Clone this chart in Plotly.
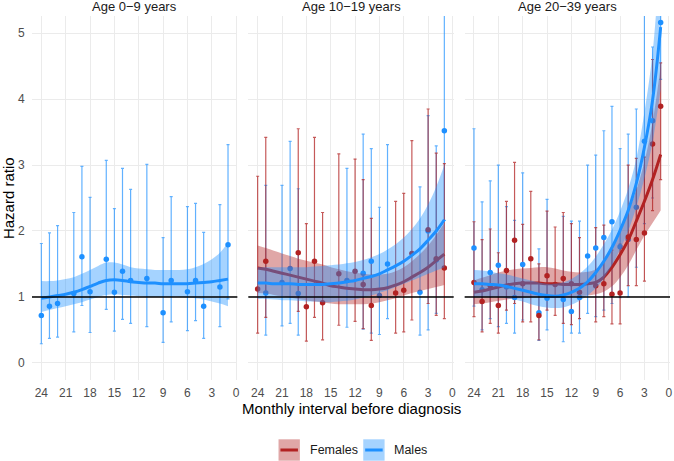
import plotly.graph_objects as go

# ---------------- data ----------------
panel_titles = ["Age 0−9 years", "Age 10−19 years", "Age 20−39 years"]
x_ticks = [24, 21, 18, 15, 12, 9, 6, 3, 0]
smooth_x = [24, 23, 22, 21, 20, 19, 18, 17, 16, 15, 14, 13, 12, 11, 10, 9, 8, 7, 6, 5, 4, 3, 2, 1]

# Panel 1 (Age 0-9), males only: monthly estimates
m1_x = [24, 23, 22, 20, 19, 18, 16, 15, 14, 13, 11, 9, 8, 6, 5, 4, 2, 1]
m1_hr = [0.72, 0.86, 0.90, 1.05, 1.61, 1.08, 1.57, 1.07, 1.39, 1.25, 1.28, 0.76, 1.25, 1.08, 1.25, 0.86, 1.15, 1.79]
m1_lo = [0.29, 0.37, 0.39, 0.47, 0.87, 0.46, 0.81, 0.48, 0.66, 0.60, 0.55, 0.31, 0.62, 0.49, 0.64, 0.37, 0.55, 0.97]
m1_hi = [1.81, 1.97, 2.08, 2.28, 2.98, 2.51, 3.07, 2.34, 2.95, 2.63, 3.01, 1.90, 2.52, 2.37, 2.42, 1.98, 2.40, 3.31]

# Panel 2 (Age 10-19)
f2_x = [24, 23, 19, 18, 17, 16, 14, 12, 11, 10, 7, 6, 5, 3, 2, 1]
f2_hr = [1.12, 1.54, 1.67, 0.85, 1.54, 0.91, 1.35, 1.39, 1.19, 0.87, 1.06, 1.10, 1.66, 2.02, 1.58, 1.44]
f2_lo = [0.45, 0.69, 0.78, 0.33, 0.69, 0.35, 0.57, 0.63, 0.52, 0.34, 0.45, 0.47, 0.65, 0.90, 0.72, 0.67]
f2_hi = [2.83, 3.42, 3.55, 2.11, 3.42, 2.28, 3.17, 3.09, 2.78, 2.19, 2.45, 2.57, 3.37, 3.85, 3.18, 3.02]

m2_x = [23, 21, 20, 19, 13, 11, 10, 9, 8, 4, 3, 2, 1]
m2_hr = [1.06, 1.22, 1.43, 1.05, 1.25, 1.36, 1.54, 1.02, 1.50, 1.07, 2.00, 1.56, 3.52]
m2_lo = [0.42, 0.56, 0.60, 0.42, 0.54, 0.51, 0.45, 0.43, 0.67, 0.42, 0.50, 0.75, 2.16]
m2_hi = [2.69, 2.69, 3.36, 2.64, 2.95, 3.47, 3.25, 2.36, 3.31, 2.67, 3.75, 3.29, 6.50]

# Panel 3 (Age 20-39)
f3_x = [24, 23, 22, 21, 20, 19, 18, 17, 16, 15, 14, 13, 12, 11, 9, 8, 7, 6, 5, 4, 3, 2, 1]
f3_hr = [1.22, 0.93, 1.17, 0.87, 1.40, 1.86, 1.20, 1.58, 0.72, 1.32, 1.19, 1.28, 1.20, 1.07, 1.17, 1.20, 1.04, 1.06, 1.91, 1.87, 1.97, 3.32, 3.89]
f3_lo = [0.70, 0.47, 0.60, 0.45, 0.80, 0.90, 0.62, 0.62, 0.35, 0.80, 0.72, 0.60, 0.58, 0.67, 0.62, 0.70, 0.59, 0.59, 1.17, 1.17, 1.24, 2.31, 2.78]
f3_hi = [2.14, 1.87, 2.03, 1.67, 2.45, 3.04, 2.10, 2.60, 1.50, 2.30, 2.06, 2.28, 2.11, 1.90, 2.05, 2.09, 1.71, 1.80, 3.00, 3.10, 3.12, 4.60, 4.55]

m3_x = [24, 23, 22, 21, 20, 19, 18, 16, 15, 13, 12, 11, 10, 9, 8, 7, 6, 5, 4, 3, 2, 1]
m3_hr = [1.74, 1.11, 1.37, 1.48, 1.15, 0.99, 1.49, 0.76, 0.98, 0.96, 0.78, 0.99, 1.62, 1.74, 1.90, 2.14, 1.76, 1.87, 2.36, 3.36, 3.67, 5.16]
m3_lo = [0.86, 0.50, 0.67, 0.55, 0.60, 0.45, 0.65, 0.34, 0.50, 0.32, 0.45, 0.45, 0.75, 0.70, 0.80, 0.90, 0.99, 1.00, 1.45, 2.11, 2.50, 4.30]
m3_hi = [3.55, 2.44, 2.76, 3.00, 2.37, 2.16, 2.88, 1.73, 2.48, 2.22, 2.15, 2.15, 3.00, 3.15, 3.52, 3.89, 3.25, 3.47, 3.85, 6.50, 4.79, 7.00]

# Smoothed fits (values at smooth_x) with confidence bands
m1_fit = [0.98, 1.00, 1.02, 1.04, 1.07, 1.11, 1.16, 1.21, 1.25, 1.26, 1.25, 1.23, 1.22, 1.21, 1.21, 1.20, 1.20, 1.20, 1.20, 1.21, 1.22, 1.23, 1.25, 1.27]
m1_up = [1.24, 1.24, 1.25, 1.27, 1.30, 1.35, 1.41, 1.47, 1.52, 1.52, 1.49, 1.45, 1.43, 1.42, 1.41, 1.41, 1.41, 1.41, 1.42, 1.45, 1.50, 1.57, 1.67, 1.82]
m1_dn = [0.77, 0.80, 0.83, 0.86, 0.89, 0.92, 0.96, 1.00, 1.03, 1.04, 1.03, 1.02, 1.01, 1.00, 1.00, 1.00, 1.00, 1.00, 0.99, 0.98, 0.96, 0.93, 0.90, 0.86]

f2_fit = [1.44, 1.42, 1.39, 1.36, 1.33, 1.30, 1.27, 1.24, 1.21, 1.17, 1.15, 1.13, 1.12, 1.11, 1.11, 1.12, 1.14, 1.18, 1.23, 1.30, 1.37, 1.45, 1.55, 1.65]
f2_up = [1.78, 1.74, 1.70, 1.66, 1.62, 1.58, 1.55, 1.52, 1.49, 1.45, 1.42, 1.39, 1.37, 1.35, 1.34, 1.34, 1.35, 1.39, 1.45, 1.54, 1.65, 1.78, 1.94, 2.12]
f2_dn = [1.06, 1.05, 1.03, 1.01, 0.99, 0.97, 0.95, 0.93, 0.92, 0.90, 0.89, 0.89, 0.89, 0.89, 0.90, 0.92, 0.95, 0.98, 1.02, 1.06, 1.09, 1.12, 1.15, 1.18]

m2_fit = [1.21, 1.21, 1.20, 1.20, 1.20, 1.19, 1.19, 1.19, 1.19, 1.20, 1.21, 1.23, 1.25, 1.28, 1.31, 1.35, 1.41, 1.47, 1.54, 1.63, 1.73, 1.86, 2.00, 2.17]
m2_up = [1.45, 1.45, 1.45, 1.45, 1.45, 1.45, 1.45, 1.46, 1.47, 1.48, 1.49, 1.51, 1.53, 1.56, 1.60, 1.65, 1.72, 1.80, 1.90, 2.03, 2.19, 2.40, 2.67, 3.00]
m2_dn = [0.97, 0.97, 0.96, 0.95, 0.95, 0.94, 0.93, 0.93, 0.92, 0.92, 0.93, 0.94, 0.96, 0.99, 1.02, 1.06, 1.10, 1.15, 1.20, 1.25, 1.30, 1.35, 1.40, 1.45]

f3_fit = [1.07, 1.09, 1.12, 1.15, 1.18, 1.20, 1.21, 1.21, 1.21, 1.20, 1.20, 1.19, 1.19, 1.19, 1.20, 1.22, 1.30, 1.45, 1.64, 1.86, 2.15, 2.45, 2.78, 3.16]
f3_up = [1.25, 1.29, 1.33, 1.37, 1.40, 1.42, 1.43, 1.44, 1.45, 1.45, 1.43, 1.40, 1.38, 1.37, 1.38, 1.42, 1.55, 1.74, 1.98, 2.28, 2.62, 3.05, 3.65, 4.50]
f3_dn = [0.89, 0.90, 0.92, 0.94, 0.96, 0.98, 0.98, 0.99, 0.99, 0.99, 0.99, 0.99, 1.00, 1.01, 1.02, 1.04, 1.08, 1.16, 1.30, 1.48, 1.71, 1.93, 2.12, 2.31]

m3_fit = [1.20, 1.20, 1.19, 1.18, 1.16, 1.13, 1.10, 1.07, 1.04, 1.02, 1.01, 1.03, 1.07, 1.13, 1.23, 1.37, 1.54, 1.75, 2.01, 2.31, 2.72, 3.27, 3.98, 5.09]
m3_up = [1.41, 1.40, 1.38, 1.36, 1.34, 1.31, 1.28, 1.25, 1.22, 1.20, 1.20, 1.22, 1.27, 1.35, 1.46, 1.61, 1.80, 2.02, 2.30, 2.64, 3.10, 3.80, 4.70, 6.30]
m3_dn = [0.99, 1.00, 1.00, 1.00, 0.98, 0.96, 0.93, 0.89, 0.86, 0.84, 0.83, 0.84, 0.88, 0.94, 1.02, 1.13, 1.28, 1.48, 1.72, 2.00, 2.36, 2.80, 3.35, 4.15]

# ---------------- styles ----------------
FONT = "Liberation Sans, Arial, Helvetica, sans-serif"
RED = "#B22222"
BLUE = "#1E90FF"
RED_FILL = "rgba(178,34,34,0.4)"
BLUE_FILL = "rgba(30,144,255,0.4)"
RED_BAR = "rgba(178,34,34,0.75)"
BLUE_BAR = "rgba(30,144,255,0.7)"
GRID = "#EBEBEB"

fig = go.Figure()


def add_bars(xa, xs, hr, lo, hi, barcol):
    fig.add_trace(go.Scatter(
        x=xs, y=hr, xaxis=xa, yaxis="y", mode="markers",
        marker=dict(color="rgba(0,0,0,0)", size=1),
        error_y=dict(type="data", symmetric=False,
                     array=[h - v for h, v in zip(hi, hr)],
                     arrayminus=[v - l for v, l in zip(hr, lo)],
                     color=barcol, thickness=1.2, width=1.5),
        showlegend=False, hoverinfo="skip"))


def add_points(xa, xs, hr, col):
    fig.add_trace(go.Scatter(
        x=xs, y=hr, xaxis=xa, yaxis="y", mode="markers",
        marker=dict(color=col, size=5.5, line=dict(width=0)),
        showlegend=False))


def add_smooth(xa, fit, up, dn, col, fill):
    fig.add_trace(go.Scatter(
        x=smooth_x, y=dn, xaxis=xa, yaxis="y", mode="lines",
        line=dict(width=0, shape="spline", color=fill),
        showlegend=False, hoverinfo="skip"))
    fig.add_trace(go.Scatter(
        x=smooth_x, y=up, xaxis=xa, yaxis="y", mode="lines",
        line=dict(width=0, shape="spline", color=fill),
        fill="tonexty", fillcolor=fill,
        showlegend=False, hoverinfo="skip"))
    fig.add_trace(go.Scatter(
        x=smooth_x, y=fit, xaxis=xa, yaxis="y", mode="lines",
        line=dict(width=3, shape="spline", color=col),
        showlegend=False))


# Panel 1
add_bars("x", m1_x, m1_hr, m1_lo, m1_hi, BLUE_BAR)
add_points("x", m1_x, m1_hr, BLUE)
add_smooth("x", m1_fit, m1_up, m1_dn, BLUE, BLUE_FILL)

# Panel 2
add_bars("x2", m2_x, m2_hr, m2_lo, m2_hi, BLUE_BAR)
add_bars("x2", f2_x, f2_hr, f2_lo, f2_hi, RED_BAR)
add_points("x2", m2_x, m2_hr, BLUE)
add_points("x2", f2_x, f2_hr, RED)
add_smooth("x2", f2_fit, f2_up, f2_dn, RED, RED_FILL)
add_smooth("x2", m2_fit, m2_up, m2_dn, BLUE, BLUE_FILL)

# Panel 3
add_bars("x3", m3_x, m3_hr, m3_lo, m3_hi, BLUE_BAR)
add_bars("x3", f3_x, f3_hr, f3_lo, f3_hi, RED_BAR)
add_points("x3", m3_x, m3_hr, BLUE)
add_points("x3", f3_x, f3_hr, RED)
add_smooth("x3", f3_fit, f3_up, f3_dn, RED, RED_FILL)
add_smooth("x3", m3_fit, m3_up, m3_dn, BLUE, BLUE_FILL)

# reference line at HR = 1 in each panel
for xa in ["x", "x2", "x3"]:
    fig.add_shape(type="line", xref=f"{xa} domain", yref="y", x0=0, x1=1, y0=1, y1=1,
                  line=dict(color="black", width=1.5), layer="above")

domains = [[0.0, 206 / 640], [217 / 640, 423 / 640], [434 / 640, 1.0]]
xaxis_common = dict(
    range=[25.15, -0.15], tickmode="array", tickvals=x_ticks,
    ticktext=[str(v) for v in x_ticks],
    showgrid=True, gridcolor=GRID, gridwidth=1.2, zeroline=False, showline=False,
    ticks="outside", ticklen=2, tickcolor="rgba(0,0,0,0)",
    tickfont=dict(family=FONT, size=12, color="#4D4D4D"), anchor="y",
)
fig.update_layout(
    xaxis=dict(domain=domains[0], **xaxis_common),
    xaxis2=dict(domain=domains[1], **xaxis_common),
    xaxis3=dict(domain=domains[2], **xaxis_common),
    yaxis=dict(range=[-0.26, 5.26], tickmode="array", tickvals=[0, 1, 2, 3, 4, 5],
               showgrid=True, gridcolor=GRID, gridwidth=1.2, zeroline=False, showline=False,
               ticks="outside", ticklen=4, tickcolor="rgba(0,0,0,0)",
               tickfont=dict(family=FONT, size=12, color="#4D4D4D"), anchor="x"),
    width=674, height=461,
    margin=dict(l=32, r=2, t=16, b=81),
    paper_bgcolor="white", plot_bgcolor="white",
    showlegend=False,
    font=dict(family=FONT),
)

annotations = []
for title, dom in zip(panel_titles, domains):
    annotations.append(dict(text=title, x=(dom[0] + dom[1]) / 2, y=1.026, xref="paper", yref="paper",
                            xanchor="center", yanchor="middle", showarrow=False,
                            font=dict(family=FONT, size=13, color="#1A1A1A")))
annotations.append(dict(text="Monthly interval before diagnosis", x=0.5, y=-0.077, xref="paper", yref="paper",
                        xanchor="center", yanchor="middle", showarrow=False,
                        font=dict(family=FONT, size=15, color="black")))
annotations.append(dict(text="Hazard ratio", x=-0.0375, y=0.5, xref="paper", yref="paper",
                        xanchor="center", yanchor="middle", textangle=-90, showarrow=False,
                        font=dict(family=FONT, size=15, color="black")))

# legend drawn as keys + labels
legend_items = [("Females", RED, RED_FILL, 0.3864, 0.4333), ("Males", BLUE, BLUE_FILL, 0.5192, 0.5645)]
key_w = 21.4 / 640
for name, col, fill, kx, tx in legend_items:
    fig.add_shape(type="rect", xref="paper", yref="paper", x0=kx, x1=kx + key_w, y0=-0.2217, y1=-0.1629,
                  fillcolor=fill, line=dict(width=0))
    fig.add_shape(type="line", xref="paper", yref="paper", x0=kx + 0.003, x1=kx + key_w - 0.003,
                  y0=-0.1923, y1=-0.1923, line=dict(color=col, width=3))
    annotations.append(dict(text=name, x=tx, y=-0.1923, xref="paper", yref="paper",
                            xanchor="left", yanchor="middle", showarrow=False,
                            font=dict(family=FONT, size=12.5, color="#1A1A1A")))

fig.update_layout(annotations=annotations)
fig.write_html("out.html")
